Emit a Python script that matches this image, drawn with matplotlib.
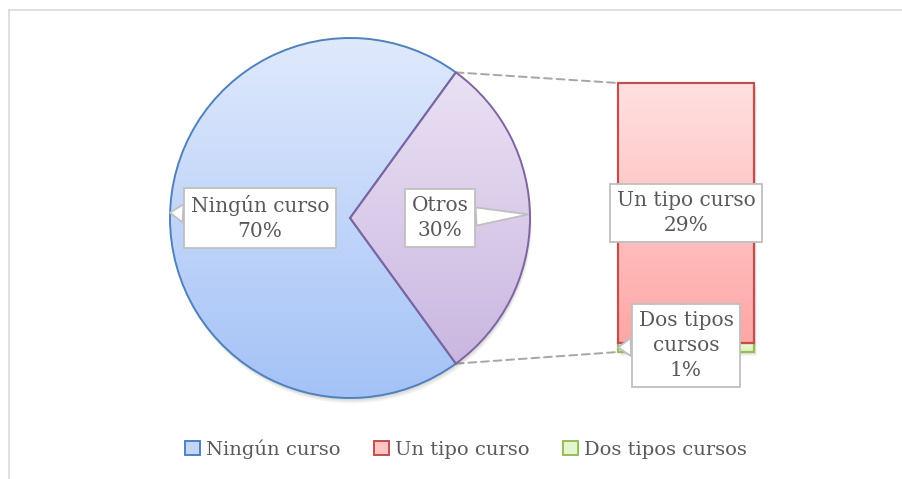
import numpy as np
import matplotlib

matplotlib.use("Agg")
import matplotlib.pyplot as plt
from matplotlib.colors import LinearSegmentedColormap
from matplotlib.lines import Line2D
from matplotlib.patches import ConnectionPatch, Patch, Circle, Rectangle

plt.rcParams["font.family"] = ["DejaVu Serif"]

# data
pie_labels = ["Ningún curso", "Otros"]
pie_values = [70, 30]
bar_labels = ["Dos tipos cursos", "Un tipo curso"]  # bottom to top
bar_values = [1, 29]
bar_text = ["Dos tipos\ncursos", "Un tipo curso"]
legend_labels = ["Ningún curso", "Un tipo curso", "Dos tipos cursos"]

TXT = "#595959"
BOXEC = "#bfbfbf"

W, H = 903, 479
fig = plt.figure(figsize=(W / 100, H / 100), dpi=100)


def px_axes(x0, y0, w, h):
    # axes placed by pixel box (top-left origin)
    return fig.add_axes([x0 / W, 1 - (y0 + h) / H, w / W, h / H])


def grad_fill(ax, patch, top, bottom, extent):
    cmap = LinearSegmentedColormap.from_list("g", [bottom, top])
    im = ax.imshow(np.linspace(0, 1, 256).reshape(-1, 1), cmap=cmap, extent=extent,
                   origin="lower", aspect="auto", zorder=patch.get_zorder() - 0.5,
                   interpolation="bilinear")
    im.set_clip_path(patch)
    patch.set_facecolor("none")


# chart-area border (only top and left visible)
fig.add_artist(Line2D([8.5 / W, 1], [1 - 9.5 / H] * 2, transform=fig.transFigure,
                      color="#d9d9d9", lw=1.2))
fig.add_artist(Line2D([8.5 / W] * 2, [0, 1 - 9.5 / H], transform=fig.transFigure,
                      color="#d9d9d9", lw=1.2))

# pie
ax_pie = px_axes(170, 38, 360, 360)
start = 360 * pie_values[1] / sum(pie_values) / 2  # Otros centred on the right
wedges, _ = ax_pie.pie(pie_values, startangle=start, counterclock=True,
                       wedgeprops=dict(linewidth=1.4))
# soft shadow under the pie
for k in range(1, 6):
    ax_pie.add_patch(Circle((0.002 * k, -0.006 * k), 1.0, fc="black", ec="none",
                            alpha=0.035, zorder=0.5, clip_on=False))
pie_cols = [("#dfe9fc", "#a4c2f7", "#4f81bd"), ("#eee6f6", "#c6b2de", "#8064a2")]
for w, (top, bot, ec) in zip(wedges, pie_cols):
    w.set_edgecolor(ec)
    w.set_zorder(2)
    w.set_clip_on(False)
    grad_fill(ax_pie, w, top, bot, (-1, 1, -1, 1))
ax_pie.set_xlim(-1.0, 1.0)
ax_pie.set_ylim(-1.0, 1.0)
ax_pie.set_aspect("equal")
ax_pie.axis("off")

# bar of the "Otros" slice
ax_bar = px_axes(618, 83, 136, 269)
bottoms = np.cumsum([0] + bar_values[:-1])
total = sum(bar_values)
for k in range(1, 5):
    ax_bar.add_patch(Rectangle((0.006 * k, -0.004 * total * k), 1, total, fc="black",
                               ec="none", alpha=0.04, zorder=0.5, clip_on=False))
bars = ax_bar.bar([0.5] * len(bar_values), bar_values, width=1, bottom=bottoms,
                  linewidth=1.6, zorder=2)
bar_cols = [("#ecfadc", "#d7f2b8", "#9bbb59"), ("#ffe1e1", "#ffa6a6", "#c0504d")]
for b, (top, bot, ec) in zip(bars, bar_cols):
    b.set_edgecolor(ec)
    b.set_clip_on(False)
    x0, y0 = b.get_x(), b.get_y()
    grad_fill(ax_bar, b, top, bot, (x0, x0 + b.get_width(), y0, y0 + b.get_height()))
ax_bar.set_xlim(0, 1)
ax_bar.set_ylim(0, total)
ax_bar.axis("off")

# connector lines
a = np.deg2rad(start)
for sgn, yb in [(1, total), (-1, 0)]:
    con = ConnectionPatch(xyA=(np.cos(a), sgn * np.sin(a)), coordsA=ax_pie.transData,
                          xyB=(0, yb), coordsB=ax_bar.transData,
                          color="#a6a6a6", lw=1.4, linestyle=(0, (4, 2.5)), zorder=0)
    fig.add_artist(con)

# callout labels
box = dict(boxstyle="square,pad=0.35", fc="white", ec=BOXEC, lw=1.3)
wedge_arrow = dict(arrowstyle="wedge,tail_width=0.9,shrink_factor=0.5", fc="white",
                   ec=BOXEC, lw=1.3, shrinkA=0, shrinkB=0)
fs = 14.5
ls = 1.4
ax_pie.annotate(f"{pie_labels[0]}\n{pie_values[0]}%", xy=(-1.0, 0.03), xytext=(-0.5, 0),
                ha="center", va="center", fontsize=fs, color=TXT, bbox=box,
                linespacing=ls, arrowprops=wedge_arrow, zorder=5)
ax_pie.annotate(f"{pie_labels[1]}\n{pie_values[1]}%", xy=(0.99, 0.02), xytext=(0.5, 0),
                ha="center", va="center", fontsize=fs, color=TXT, bbox=box,
                linespacing=ls, arrowprops=wedge_arrow, zorder=5)
ax_bar.annotate(f"{bar_text[1]}\n{bar_values[1]}%",
                xy=(0.5, bottoms[1] + bar_values[1] / 2),
                ha="center", va="center", fontsize=fs, color=TXT, bbox=box,
                linespacing=ls, zorder=5)
ax_bar.annotate(f"{bar_text[0]}\n{bar_values[0]}%", xy=(0.0, 0.5), xytext=(0.5, 0.75),
                ha="center", va="center", fontsize=fs, color=TXT, bbox=box,
                linespacing=ls, arrowprops=wedge_arrow, zorder=5, annotation_clip=False)

# legend
handles = [Patch(fc="#c3d6f8", ec="#4f81bd", lw=1.4),
           Patch(fc="#ffc4c4", ec="#c0504d", lw=1.4),
           Patch(fc="#e4f6cf", ec="#9bbb59", lw=1.4)]
leg = fig.legend(handles, legend_labels, loc="center", bbox_to_anchor=(466 / W, 1 - 449 / H),
                 ncol=3, frameon=False, fontsize=14, handlelength=0.75, handleheight=0.75,
                 handletextpad=0.3, columnspacing=1.75, labelcolor=TXT)

fig.savefig("out.png", dpi=100)
